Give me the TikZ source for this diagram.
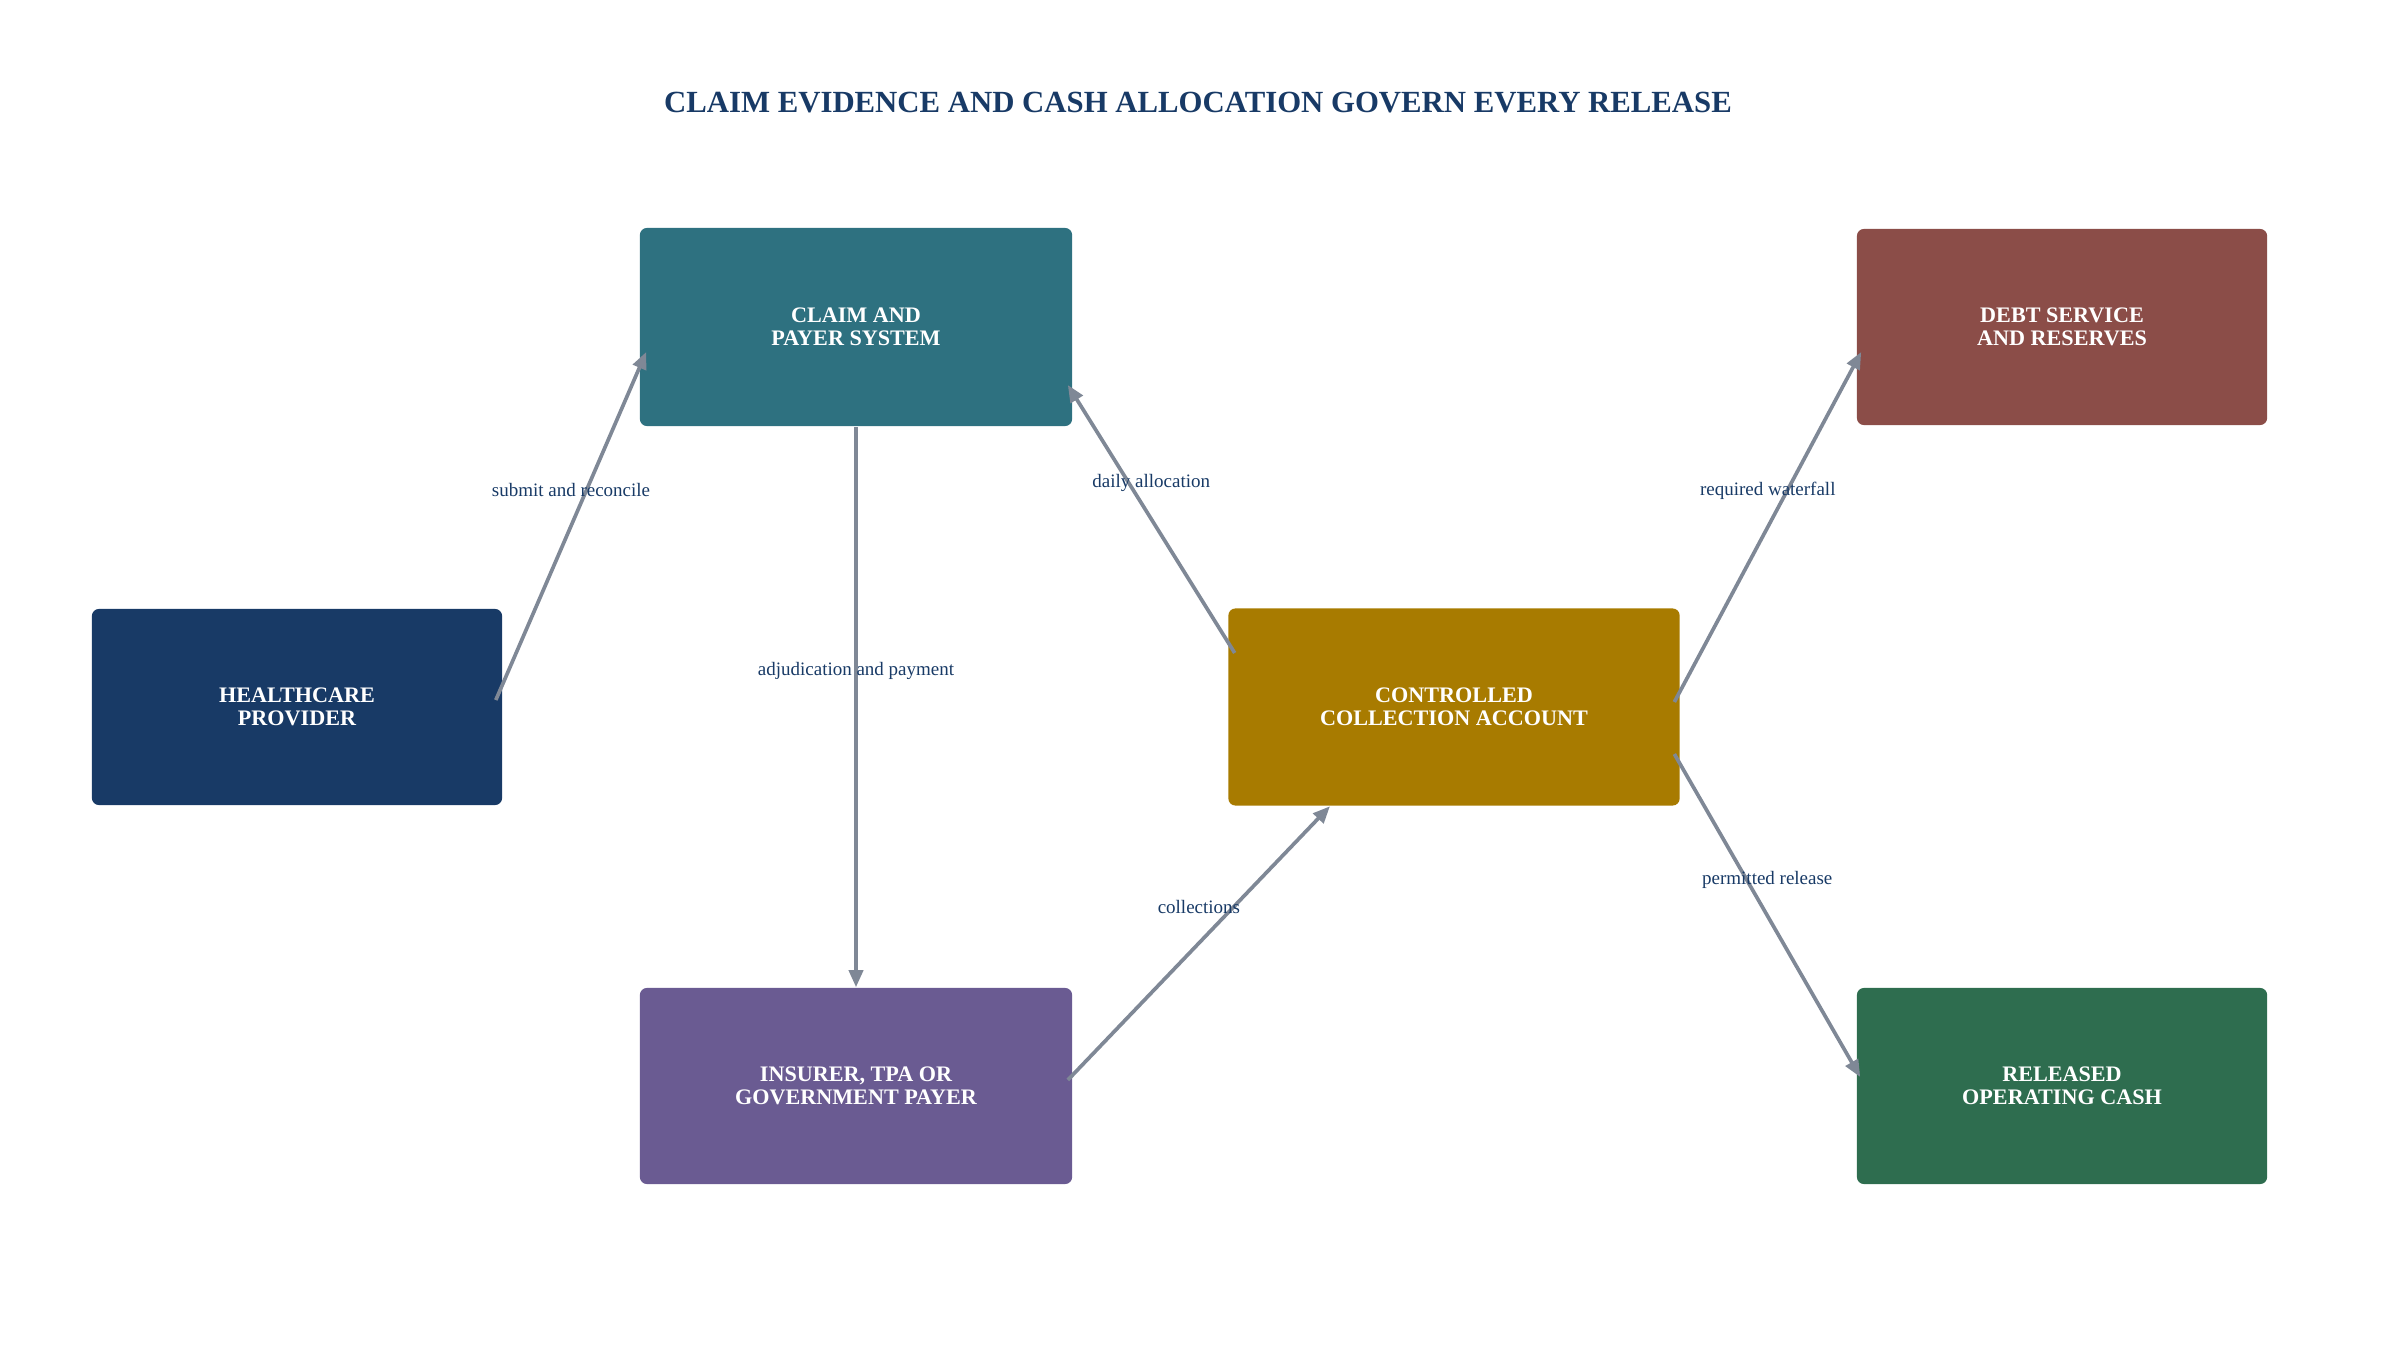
\documentclass[tikz,border=0pt]{standalone}
\usepackage{fontspec}
\setmainfont{Liberation Serif}
\definecolor{titlenavy}{RGB}{24, 58, 102}
\definecolor{providerblue}{RGB}{24, 58, 102}
\definecolor{claimteal}{RGB}{46, 113, 128}
\definecolor{accountgold}{RGB}{168, 123, 0}
\definecolor{debtred}{RGB}{139, 77, 72}
\definecolor{payerpurple}{RGB}{106, 91, 146}
\definecolor{cashgreen}{RGB}{46, 109, 79}
\definecolor{flowgray}{RGB}{127, 136, 150}
\usetikzlibrary{arrows.meta, positioning}

\begin{document}
\begin{tikzpicture}[x=0.01cm, y=-0.01cm,
  box/.style={rounded corners=2pt, inner sep=0pt, align=center, text=white,
    font=\fontsize{6.3}{6.6}\selectfont\bfseries},
  flow/.style={draw=flowgray, line width=1.05pt, -{Triangle[length=0.17cm, width=0.14cm]}},
  flowlabel/.style={midway, yshift=0.36cm, text=titlenavy, font=\fontsize{5.4}{6}\selectfont}]
  \useasboundingbox (0, 0) rectangle (2398, 1364);

  % Title
  \node[text=titlenavy, font=\fontsize{8.75}{11}\selectfont\bfseries] (title) at (1198, 103)
    {CLAIM EVIDENCE AND CASH ALLOCATION GOVERN EVERY RELEASE};

  % Healthcare provider
  \node[box, fill=providerblue, minimum width=4.1cm, minimum height=1.96cm] (provider) at (297, 707)
    {HEALTHCARE\\PROVIDER};

  % Claim and payer system
  \node[box, fill=claimteal, minimum width=4.32cm, minimum height=1.98cm] (claim) at (856, 327)
    {CLAIM AND\\PAYER SYSTEM};

  % Insurer, TPA or government payer
  \node[box, fill=payerpurple, minimum width=4.32cm, minimum height=1.96cm] (payer) at (856, 1086)
    {INSURER, TPA OR\\GOVERNMENT PAYER};

  % Controlled collection account
  \node[box, fill=accountgold, minimum width=4.51cm, minimum height=1.97cm] (account) at (1454, 707)
    {CONTROLLED\\COLLECTION ACCOUNT};

  % Debt service and reserves
  \node[box, fill=debtred, minimum width=4.1cm, minimum height=1.96cm] (debt) at (2062, 327)
    {DEBT SERVICE\\AND RESERVES};

  % Released operating cash
  \node[box, fill=cashgreen, minimum width=4.1cm, minimum height=1.96cm] (released) at (2062, 1086)
    {RELEASED\\OPERATING CASH};

  % Flows
  \draw[flow] ([xshift=-0.07cm, yshift=0.07cm]provider.east) -- ([xshift=0.07cm, yshift=-0.25cm]claim.west)
    node[flowlabel] {submit and reconcile};
  \draw[flow] (claim.south) -- (payer.north)
    node[flowlabel] {adjudication and payment};
  \draw[flow] ([xshift=0.07cm, yshift=0.54cm]account.west) -- ([xshift=-0.05cm, yshift=-0.58cm]claim.east)
    node[flowlabel] {daily allocation};
  \draw[flow] ([xshift=-0.05cm, yshift=0.06cm]payer.east) -- ([xshift=-1.24cm]account.south)
    node[flowlabel] {collections};
  \draw[flow] ([xshift=-0.06cm, yshift=0.05cm]account.east) -- ([xshift=0.05cm, yshift=-0.25cm]debt.west)
    node[flowlabel] {required waterfall};
  \draw[flow] ([xshift=-0.06cm, yshift=-0.47cm]account.east) -- ([xshift=0.04cm, yshift=0.09cm]released.west)
    node[flowlabel] {permitted release};
\end{tikzpicture}
\end{document}
